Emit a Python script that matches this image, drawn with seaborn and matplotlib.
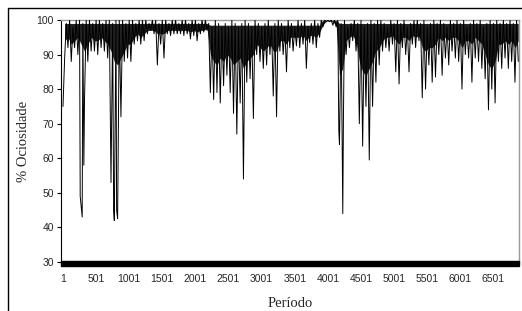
import numpy as np
import pandas as pd
import matplotlib
matplotlib.use("Agg")
import matplotlib.pyplot as plt
from matplotlib.patches import Rectangle
from matplotlib.lines import Line2D
import seaborn as sns

# ---- data (per 50-period bin) ----
bin_size = 50
# highest value reached in each bin
bin_highs = [100, 99, 100, 98, 100, 100, 99, 100, 100, 99, 100, 100, 99, 100, 100, 99, 100, 100, 100, 99,
             100, 100, 99, 100, 100, 100, 99, 100,
             100, 99, 100, 100, 99, 100, 100, 99, 100, 100, 99, 100, 100, 99, 100, 100,
             99, 98, 100, 99, 98, 99, 98, 100, 99, 98, 99, 100, 99, 98, 100, 99, 98, 99, 100, 98,
             99, 100, 99, 98, 100, 99, 98, 100, 99, 100, 98, 99, 100, 99, 100,
             100, 100, 100, 100,
             100, 99, 100, 98, 99, 100, 99, 100, 98, 99, 100, 99, 100, 100, 99, 98, 100, 99, 100, 99,
             100, 98, 99, 100, 100, 99, 100, 98, 99, 100, 99, 100, 99, 98, 100, 99, 100, 99, 100, 98,
             99, 100, 99, 100, 98, 99, 100, 99, 100, 99, 100, 99, 100, 99, 100]
# lowest value reached in each bin
bin_lows = [89, 92, 88, 92, 90, 46, 77, 88, 91, 91,
            90, 92, 91, 89, 53, 42, 42.5, 72, 88, 89,
            88, 93, 94, 93, 94, 96, 97, 96, 87, 93,
            89, 96, 95.5, 96, 96, 96, 95.5, 96, 94.5, 95.5,
            94, 96, 96.5, 97, 79, 77, 79, 76, 81, 84,
            79, 73, 67, 76, 54, 82, 83, 71.5, 90, 88,
            86, 87, 90, 78, 72, 91, 90, 85, 92, 91,
            92.5, 92, 93, 86, 93.5, 93, 92, 95, 98, 99.5,
            99.5, 98.5, 98, 64, 44, 90, 92, 94, 91, 70,
            63.5, 75, 59.5, 75, 82, 87, 91, 92, 91, 93,
            85, 81.5, 92, 90, 85, 93, 92, 94, 77.5, 80,
            87, 82, 83.5, 90, 84, 89, 87, 91, 89, 88,
            80, 90, 89, 82, 89, 88, 86, 83, 74, 80,
            76, 88, 86, 89, 86, 88, 82, 88]
# lower edge of the densely filled band in each bin
core_lows = [94, 95, 93, 94, 95, 93, 91, 93, 95, 94,
             94, 95, 94, 93, 91, 88, 87, 89, 91, 93,
             93, 95, 96, 95, 96, 97, 97, 97, 96, 96,
             96, 97, 97, 97, 97, 97, 97, 97, 96.5, 97,
             96.5, 97, 97, 97.5, 90, 88, 87, 89, 88, 90,
             89, 87, 88, 89, 86, 88, 89, 90, 93, 92,
             91, 92, 93, 91, 91, 94, 94, 93, 95, 95,
             95, 95, 95.5, 94, 95.5, 95.5, 95, 96.5, 98.5, 99.7,
             99.7, 99.5, 98.5, 84, 86, 94, 95, 95.5, 94, 88,
             85, 84, 86, 88, 91, 92, 94, 95, 95, 95.5,
             94, 93, 95, 95, 94, 95.5, 95, 95.5, 92, 91,
             92, 92, 93, 95, 94, 95, 94, 95, 95, 94,
             92, 94, 94, 93, 95, 94, 93, 90, 87, 86,
             88, 93, 93, 94, 93, 94, 92, 94]
# upper edge of the densely filled band in each bin
core_tops = ([99] * 44) + ([98.5] * 34) + ([100] * 5) + ([99] * 55)
spike_periods = [1, 261, 291, 316, 766, 811, 4166, 4236]
spike_values = [75, 49, 43, 58, 45, 45, 68, 72]
tick_periods = [1, 501, 1001, 1501, 2001, 2501, 3001, 3501, 4001, 4501, 5001, 5501, 6001, 6501]
y_ticks = [30, 40, 50, 60, 70, 80, 90, 100]

# ---- assemble series ----
pts = {}
for b, (hi, lo) in enumerate(zip(bin_highs, bin_lows)):
    pts[b * bin_size + 1] = hi
    pts[b * bin_size + 26] = lo
for p, v in zip(spike_periods, spike_values):
    pts[p] = v
df = pd.DataFrame(sorted(pts.items()), columns=["Período", "Ociosidade"])
core_x = [b * bin_size + 26 for b in range(len(core_lows))]

sns.set_theme(style="white")
plt.rcParams["font.family"] = ["Liberation Sans", "DejaVu Sans"]

fig = plt.figure(figsize=(5.22, 3.11), dpi=100)
W, H = 522, 311
ax = fig.add_axes([61 / W, 1 - 262 / H, 458 / W, 242 / H])

ax.fill_between(core_x, core_lows, core_tops, color="#222222", linewidth=0, zorder=2)
sns.lineplot(data=df, x="Período", y="Ociosidade", ax=ax, color="black",
             linewidth=0.7, estimator=None, sort=True, zorder=3)

ax.set_xlim(-29, 6887)
ax.set_ylim(30, 100)
ax.set_yticks(y_ticks)
ax.set_yticklabels([str(v) for v in y_ticks], fontsize=7.5)
ax.set_xticks(tick_periods)
ax.set_xticklabels([str(v) for v in tick_periods], fontsize=7.5)
ax.tick_params(axis="y", direction="out", length=3, width=0.8, color="black", pad=2, left=True)
ax.tick_params(axis="x", length=0, pad=9)

for s in ["top", "right"]:
    ax.spines[s].set_color("#9a9a9a")
    ax.spines[s].set_linewidth(1.0)
ax.spines["left"].set_color("black")
ax.spines["left"].set_linewidth(0.8)
ax.spines["bottom"].set_visible(False)

# thick x axis (dense category tick marks)
ax.add_patch(Rectangle((0, -0.0165), 1, 0.0207, transform=ax.transAxes,
                       color="black", clip_on=False, zorder=5))

ax.set_xlabel("Período", fontsize=10.5, family=["Liberation Serif", "DejaVu Serif"])
ax.set_ylabel("% Ociosidade", fontsize=10.5, family=["Liberation Serif", "DejaVu Serif"])
ax.xaxis.set_label_coords(0.5, -0.145)
ax.yaxis.set_label_coords(-0.068, 0.5)

# outer chart border
fig.add_artist(Line2D([8 / W, 8 / W, 1], [0, 1 - 8 / H, 1 - 8 / H],
                      transform=fig.transFigure, color="black", lw=1))

fig.savefig("out.png", dpi=100)
